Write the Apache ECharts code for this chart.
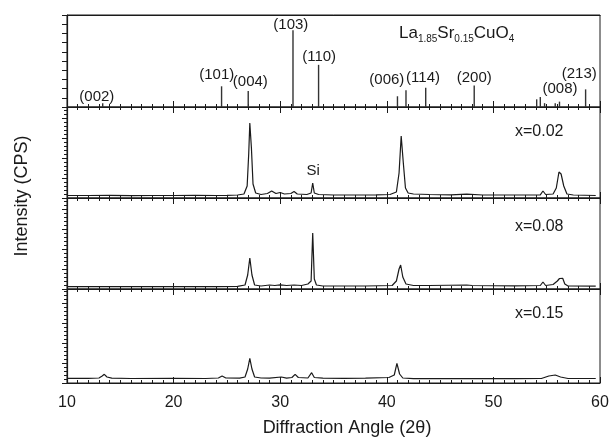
<!DOCTYPE html>
<html>
<head>
<meta charset="utf-8">
<script src="https://cdn.jsdelivr.net/npm/echarts@6/dist/echarts.min.js"></script>
<style>
  html, body { margin: 0; padding: 0; background: #fff; }
  #chart { width: 613px; height: 443px; }
</style>
</head>
<body>
<div id="chart"></div>
<script>
// reference pattern La1.85Sr0.15CuO4: [2theta, relative intensity %]
const refSticks = [
  [13.35, 5], [24.5, 27], [27.0, 21], [31.2, 100], [33.6, 55],
  [41.0, 14], [41.8, 22], [43.65, 25], [48.2, 28],
  [54.06, 10], [54.4, 13], [54.8, 5], [55.8, 5], [56.2, 7], [58.65, 23]
];
// hkl labels: [text, 2theta, height]
const hklLabels = [
  ['(002)', 12.8, 13], ['(101)', 24.05, 41.5], ['(004)', 27.2, 32.5],
  ['(103)', 31.0, 107], ['(110)', 33.65, 65], ['(006)', 40.0, 35],
  ['(114)', 43.4, 37.5], ['(200)', 48.2, 37.5], ['(008)', 56.25, 23.5],
  ['(213)', 58.05, 43]
];
const sampleNames = ['x=0.02', 'x=0.08', 'x=0.15'];

// measured traces, counts above each panel baseline
const x002 = [
  [10, 2.5], [12, 2.5], [14, 2.6], [16, 2.4], [18, 2.5], [20, 2.5], [22, 2.6], [24, 2.5],
  [25, 2.7], [26, 3], [26.6, 4], [26.9, 12], [27.05, 45], [27.15, 75], [27.3, 50], [27.45, 14],
  [27.7, 5], [28.2, 3.5], [28.8, 4.5], [29.2, 7], [29.6, 4.5], [30.0, 5.5], [30.4, 4],
  [31.0, 4.5], [31.3, 6.5], [31.6, 4], [32.5, 3.5], [32.9, 5], [33.05, 15], [33.2, 5],
  [33.6, 3.5], [35, 3], [37, 3], [39, 3.2], [40.3, 3.5], [40.9, 6], [41.15, 25], [41.35, 62],
  [41.55, 35], [41.75, 10], [42.0, 5], [42.5, 4], [44, 3.5], [46, 3.2], [47.5, 3.8], [49, 3],
  [51, 3], [53, 3], [54.4, 3.2], [54.65, 7], [54.9, 3.5], [55.6, 4], [55.9, 10], [56.15, 26],
  [56.35, 24], [56.6, 12], [56.9, 4], [57.5, 3], [59.6, 2.5]
];
const x008 = [
  [10, 2.3], [13, 2.5], [16, 2.3], [20, 2.3], [24, 2.4], [26, 2.6], [26.7, 4], [26.95, 14],
  [27.15, 31], [27.35, 14], [27.6, 4], [28.2, 3], [29, 4], [29.5, 3.5], [30, 4.2], [30.6, 3.5],
  [31.3, 4], [32, 3.5], [32.6, 5], [32.9, 8], [33.05, 56], [33.2, 10], [33.4, 4], [34, 3],
  [36, 3], [38, 3], [40.5, 3.5], [40.9, 8], [41.15, 20], [41.3, 24], [41.5, 12], [41.8, 5],
  [42.5, 3.5], [44, 3.5], [47.5, 4], [48, 3.5], [52, 3.2], [54.4, 3.5], [54.65, 7], [54.9, 3.5],
  [55.6, 4.5], [56.0, 8], [56.2, 10.5], [56.35, 8.5], [56.5, 10.7], [56.7, 5], [57, 3], [59.6, 2.8]
];
const x015 = [
  [10, 4.7], [12, 4.7], [13, 5], [13.3, 7], [13.5, 8.7], [13.75, 6], [14.2, 4.8], [16, 4.5],
  [20, 4.6], [23, 4.5], [24.2, 5], [24.55, 7], [24.9, 5], [26.2, 4.8], [26.7, 6], [26.95, 14],
  [27.15, 24.7], [27.35, 14], [27.6, 6], [28.2, 5], [29, 4.8], [30.1, 6], [30.6, 4.8],
  [31.1, 5.5], [31.4, 8.7], [31.7, 5.5], [32.6, 5], [32.95, 10.3], [33.2, 5.5], [34, 4.8],
  [36, 4.6], [38, 4.8], [40.2, 5.5], [40.7, 8], [40.95, 19.7], [41.2, 9], [41.5, 5],
  [42.5, 4.3], [45, 4.3], [48, 4.5], [52, 4.3], [54.5, 4.5], [55.2, 7], [55.8, 8], [56.3, 6],
  [57, 4.5], [59.6, 4.5]
];
const traces = [x002, x008, x015];

const chart = echarts.init(document.getElementById('chart'));
const font = 'Liberation Sans, Arial, sans-serif';
const ink = '#1a1a1a';

// panel layout (px)
const tops = [15, 107, 198, 289];
const heights = [92, 91, 91, 94];
const yMax = [120, 91, 91, 94];

const grid = [], xAxis = [], yAxis = [];
tops.forEach((t, i) => {
  grid.push({ left: 67, right: 13, top: t, height: heights[i], show: true,
    borderColor: ink, borderWidth: 1, backgroundColor: 'transparent' });
  // bottom axis
  xAxis.push({
    type: 'value', gridIndex: i, min: 10, max: 60, interval: 10,
    axisLine: { lineStyle: { color: ink, width: 1.2 } },
    axisTick: { inside: true, length: 6, lineStyle: { color: ink } },
    minorTick: { show: true, splitNumber: 10, length: 3, lineStyle: { color: ink } },
    splitLine: { show: false },
    axisLabel: { show: i === 3, color: ink, fontSize: 16, fontFamily: font, margin: 12 }
  });
  // top axis
  xAxis.push({
    type: 'value', gridIndex: i, position: 'top', min: 10, max: 60, interval: 10,
    axisLine: { lineStyle: { color: ink, width: 1.2 } },
    axisTick: { show: i > 0, inside: true, length: 6, lineStyle: { color: ink } },
    minorTick: { show: i > 0, splitNumber: 10, length: 3, lineStyle: { color: ink } },
    splitLine: { show: false }, axisLabel: { show: false }
  });
  yAxis.push({
    type: 'value', gridIndex: i, min: 0, max: yMax[i], interval: i === 0 ? 12 : 20,
    axisLine: { lineStyle: { color: ink, width: 1.2 } },
    axisTick: { inside: false, length: 5, lineStyle: { color: ink } },
    minorTick: { show: i > 0, splitNumber: 5, length: 3, lineStyle: { color: ink } },
    splitLine: { show: false }, axisLabel: { show: false }
  });
});

const labelStyle = { show: true, position: 'inside', color: ink, opacity: 1,
  fontSize: 15, fontFamily: font };
const series = [
  {
    type: 'bar', xAxisIndex: 0, yAxisIndex: 0, barWidth: 1.4,
    itemStyle: { color: '#333' }, data: refSticks, silent: true
  },
  {
    type: 'scatter', xAxisIndex: 0, yAxisIndex: 0, symbolSize: 0, silent: true,
    itemStyle: { opacity: 1 },
    data: hklLabels.map(d => ({ name: d[0], value: [d[1], d[2]] })),
    label: Object.assign({ formatter: p => p.name }, labelStyle)
  },
  {
    type: 'scatter', xAxisIndex: 2, yAxisIndex: 1, symbolSize: 0, silent: true,
    itemStyle: { opacity: 1 },
    data: [{ name: 'Si', value: [33.1, 27] }],
    label: Object.assign({ formatter: 'Si' }, labelStyle)
  }
];
traces.forEach((tr, k) => {
  series.push({
    type: 'line', xAxisIndex: 2 * (k + 1), yAxisIndex: k + 1,
    data: tr, showSymbol: false, symbol: 'none', silent: true,
    lineStyle: { color: ink, width: 1.2 }
  });
});

const sampleTops = [124, 219, 306];
const graphic = [
  {
    type: 'text', left: 399, top: 22,
    style: {
      text: '{a|La}{s|1.85}{a|Sr}{s|0.15}{a|CuO}{s|4}',
      rich: {
        a: { fontSize: 17, fontFamily: font, fill: ink, lineHeight: 20 },
        s: { fontSize: 10, fontFamily: font, fill: ink, padding: [12, 0, 0, 0], lineHeight: 20 }
      }
    }
  },
  {
    type: 'text', x: 22, y: 196, rotation: Math.PI / 2,
    style: { text: 'Intensity (CPS)', fontSize: 18, fontFamily: font, fill: ink,
      align: 'center', verticalAlign: 'middle' }
  },
  {
    type: 'text', x: 347, y: 428,
    style: { text: 'Diffraction Angle (2\u03b8)', fontSize: 18, fontFamily: font, fill: ink,
      align: 'center', verticalAlign: 'middle' }
  }
];
sampleNames.forEach((s, k) => {
  graphic.push({
    type: 'text', left: 515, top: sampleTops[k],
    style: { text: s, fontSize: 16, fontFamily: font, fill: ink }
  });
});

chart.setOption({
  animation: false,
  backgroundColor: '#fff',
  grid, xAxis, yAxis, series, graphic
});
</script>
</body>
</html>
